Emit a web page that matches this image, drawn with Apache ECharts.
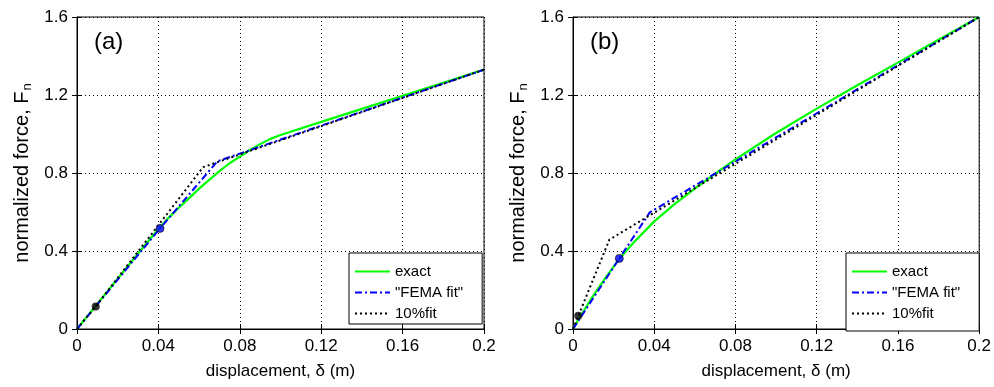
<!DOCTYPE html>
<html>
<head>
<meta charset="utf-8">
<script src="https://cdn.jsdelivr.net/npm/echarts@6/dist/echarts.min.js"></script>
<style>
  html, body { margin: 0; background: #fff; }
  #chart { width: 994px; height: 387px; }
</style>
</head>
<body>
<div id="chart"></div>
<script>
// panel (a)
const aExactX = [0, 0.01, 0.02, 0.03, 0.04, 0.045, 0.05, 0.055, 0.06, 0.065, 0.07, 0.075, 0.08, 0.085, 0.09, 0.095, 0.1, 0.12, 0.14, 0.16, 0.18, 0.2];
const aExactY = [0, 0.129, 0.258, 0.387, 0.513, 0.57, 0.622, 0.67, 0.72, 0.765, 0.81, 0.85, 0.884, 0.918, 0.948, 0.975, 0.995, 1.062, 1.129, 1.196, 1.263, 1.33];
const aFemaX = [0, 0.0408, 0.069, 0.2];
const aFemaY = [0, 0.516, 0.86, 1.33];
const aTenX = [0, 0.0092, 0.062, 0.2];
const aTenY = [0, 0.116, 0.83, 1.33];
const aBlackDot = [0.0092, 0.116];
const aBlueDot = [0.0408, 0.516];

// panel (b)
const bExactX = [0, 0.004, 0.0084, 0.012, 0.016, 0.0228, 0.03, 0.04, 0.05, 0.06, 0.07, 0.08, 0.1, 0.12, 0.14, 0.16, 0.18, 0.2];
const bExactY = [0, 0.072, 0.145, 0.202, 0.262, 0.36, 0.445, 0.552, 0.64, 0.72, 0.797, 0.87, 1.005, 1.13, 1.25, 1.366, 1.483, 1.6];
const bFemaX = [0, 0.0228, 0.0378, 0.2];
const bFemaY = [0, 0.362, 0.598, 1.6];
const bTenX = [0, 0.0179, 0.2];
const bTenY = [0, 0.458, 1.6];
const bBlackDot = [0.0026, 0.068];
const bBlueDot = [0.0228, 0.362];

const seriesNames = ['exact', '"FEMA fit"', '10%fit'];
const panelLabels = ['(a)', '(b)'];

const font = 'Liberation Sans, Arial, Helvetica, sans-serif';
const zip = (xs, ys) => xs.map((x, i) => [x, ys[i]]);

const chart = echarts.init(document.getElementById('chart'));

function mainX(i) {
  return {
    type: 'value', gridIndex: i, min: 0, max: 0.2, interval: 0.04,
    name: 'displacement, δ (m)', nameLocation: 'middle', nameGap: 34,
    nameTextStyle: { fontSize: 17, color: '#000', fontFamily: font },
    axisLine: { lineStyle: { color: '#000', width: 1 } },
    axisTick: { inside: true, length: 5, lineStyle: { color: '#000' } },
    axisLabel: { fontSize: 17, color: '#000', fontFamily: font, margin: 9 },
    splitLine: { show: true, lineStyle: { color: '#000', type: [1, 3], width: 1 } }
  };
}
function mainY(i) {
  return {
    type: 'value', gridIndex: i, min: 0, max: 1.6, interval: 0.4,
    name: 'normalized force, F{n|n}', nameLocation: 'middle', nameGap: 43,
    nameTextStyle: {
      fontSize: 20, color: '#000', fontFamily: font,
      rich: { n: { fontSize: 13, color: '#000', fontFamily: font, padding: [10, 0, 0, 1] } }
    },
    axisLine: { lineStyle: { color: '#000', width: 1 } },
    axisTick: { inside: true, length: 5, lineStyle: { color: '#000' } },
    axisLabel: { fontSize: 17, color: '#000', fontFamily: font, margin: 9 },
    splitLine: { show: true, lineStyle: { color: '#000', type: [1, 3], width: 1 } }
  };
}
function sideX(i) {
  return {
    type: 'value', gridIndex: i, position: 'top', min: 0, max: 0.2, interval: 0.04,
    axisLine: { lineStyle: { color: '#000' } },
    axisTick: { inside: true, length: 5, lineStyle: { color: '#000' } },
    axisLabel: { show: false }, splitLine: { show: false }
  };
}
function sideY(i) {
  return {
    type: 'value', gridIndex: i, position: 'right', min: 0, max: 1.6, interval: 0.4,
    axisLine: { lineStyle: { color: '#000' } },
    axisTick: { inside: true, length: 5, lineStyle: { color: '#000' } },
    axisLabel: { show: false }, splitLine: { show: false }
  };
}

function panelSeries(i, ex, ey, fx, fy, tx, ty, blackDot, blueDot) {
  return [
    {
      name: seriesNames[0], type: 'line', xAxisIndex: i, yAxisIndex: i,
      data: zip(ex, ey), symbol: 'none',
      lineStyle: { color: '#00ff00', width: 2.2 }, itemStyle: { color: '#00ff00' }
    },
    {
      name: seriesNames[1], type: 'line', xAxisIndex: i, yAxisIndex: i,
      data: zip(fx, fy), symbol: 'none',
      lineStyle: { color: '#0000ff', width: 2, type: [7, 3, 2, 3] }, itemStyle: { color: '#0000ff' }
    },
    {
      name: seriesNames[2], type: 'line', xAxisIndex: i, yAxisIndex: i,
      data: zip(tx, ty), symbol: 'none',
      lineStyle: { color: '#000', width: 2, type: [2, 3] }, itemStyle: { color: '#000' }
    },
    {
      name: 'dots', type: 'scatter', xAxisIndex: i, yAxisIndex: i,
      data: [
        { value: blackDot, itemStyle: { color: '#000' } },
        { value: blueDot, itemStyle: { color: '#0000ff', borderColor: '#000', borderWidth: 0.8 } }
      ],
      symbolSize: 8, z: 5
    }
  ];
}

function legendFor(left, top, padBottom) {
  return {
    left: left, top: top, orient: 'vertical',
    data: seriesNames,
    itemWidth: 35, itemHeight: 14, itemGap: 6,
    padding: [11, 19, padBottom, 5],
    backgroundColor: '#fff', borderColor: '#000', borderWidth: 1, borderRadius: 0,
    itemStyle: { opacity: 0 },
    textStyle: { fontSize: 15, color: '#000', fontFamily: font },
    selectedMode: false
  };
}

const option = {
  animation: false,
  textStyle: { fontFamily: font },
  title: panelLabels.map((t, i) => ({
    text: t, left: i === 0 ? 89 : 585, top: 25,
    textStyle: { fontSize: 24, fontWeight: 'normal', color: '#000', fontFamily: font }
  })),
  grid: [
    { left: 77, right: 510, top: 17, bottom: 58, show: true, borderColor: '#000', borderWidth: 1 },
    { left: 573, right: 14, top: 17, bottom: 58, show: true, borderColor: '#000', borderWidth: 1 }
  ],
  xAxis: [mainX(0), mainX(1), sideX(0), sideX(1)],
  yAxis: [mainY(0), mainY(1), sideY(0), sideY(1)],
  legend: [legendFor(349, 253, 3), legendFor(846, 253, 10)],
  series: [
    ...panelSeries(0, aExactX, aExactY, aFemaX, aFemaY, aTenX, aTenY, aBlackDot, aBlueDot),
    ...panelSeries(1, bExactX, bExactY, bFemaX, bFemaY, bTenX, bTenY, bBlackDot, bBlueDot)
  ]
};

chart.setOption(option);
</script>
</body>
</html>
